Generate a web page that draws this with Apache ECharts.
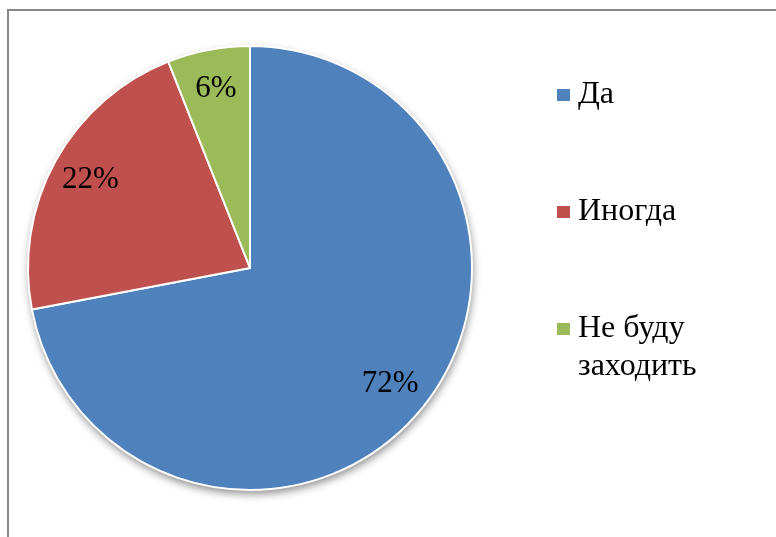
<!DOCTYPE html>
<html>
<head>
<meta charset="utf-8">
<script src="https://cdn.jsdelivr.net/npm/echarts@6/dist/echarts.min.js"></script>
<style>
  html, body { margin: 0; padding: 0; background: #fff; }
  #chart { width: 776px; height: 537px; }
</style>
</head>
<body>
<div id="chart"></div>
<script>
// answers and their shares, %
const categories = ['Да', 'Иногда', 'Не буду\nзаходить']
const shares = [72, 22, 6]
const colors = ['#4F81BD', '#C0504D', '#9BBB59']

const font = '"Liberation Serif", "Times New Roman", serif'
const pieData = categories.map((name, i) => ({ name: name, value: shares[i] }))
const center = [250, 268]

const chart = echarts.init(document.getElementById('chart'))
chart.setOption({
  animation: false,
  color: colors,
  graphic: [{
    type: 'rect',
    z: -10,
    shape: { x: 8, y: 10, width: 800, height: 600 },
    style: { fill: 'none', stroke: '#888', lineWidth: 2 }
  }],
  legend: {
    orient: 'vertical',
    left: 555,
    top: 38,
    padding: 0,
    itemGap: 3,
    icon: 'rect',
    itemWidth: 15,
    itemHeight: 14,
    data: categories,
    // blank lines keep each entry the same height, first text line beside the marker
    formatter: name => '\n' + name + (name.indexOf('\n') < 0 ? '\n' : ''),
    textStyle: {
      fontFamily: font,
      fontSize: 32,
      lineHeight: 38,
      color: '#000',
      padding: [0, 0, 0, 2]
    }
  },
  series: [
    {
      // the slices
      type: 'pie',
      z: 2,
      center: center,
      radius: 222,
      data: pieData,
      label: { show: false },
      labelLine: { show: false },
      emphasis: { scale: false },
      itemStyle: { borderColor: '#fff', borderWidth: 2 }
    },
    {
      // soft shadow under the whole pie
      type: 'pie',
      z: 1,
      silent: true,
      legendHoverLink: false,
      center: center,
      radius: 222,
      data: pieData,
      label: { show: false },
      labelLine: { show: false },
      itemStyle: {
        color: '#fff',
        shadowBlur: 8,
        shadowOffsetY: 4,
        shadowOffsetX: 1,
        shadowColor: 'rgba(0,0,0,0.45)'
      }
    },
    {
      // percentage labels, placed near the outer part of each slice
      type: 'pie',
      z: 3,
      silent: true,
      legendHoverLink: false,
      center: center,
      radius: [136, 222],
      data: pieData,
      itemStyle: { color: 'rgba(0,0,0,0)' },
      labelLine: { show: false },
      label: {
        show: true,
        position: 'inside',
        formatter: '{c}%',
        fontFamily: font,
        fontSize: 31,
        color: '#000'
      }
    }
  ]
})
</script>
</body>
</html>
